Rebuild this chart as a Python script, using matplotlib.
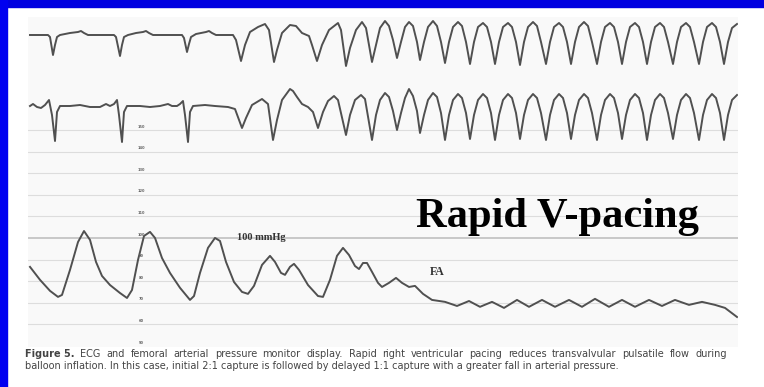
import matplotlib
matplotlib.use("Agg")
import matplotlib.pyplot as plt
from matplotlib.patches import Rectangle

W, H, DPI = 764, 387, 100

# ---------------- data ----------------
# ECG lead (top trace): time in s, amplitude in mV
ecg1_t = [0.01, 0.19, 0.21, 0.24, 0.26, 0.28, 0.31, 0.41, 0.49, 0.52, 0.55, 0.59,
          0.85, 0.87, 0.91, 0.93, 0.95, 0.99, 1.07, 1.14, 1.17, 1.20, 1.24,
          1.53, 1.55, 1.58, 1.60, 1.62, 1.67, 1.77, 1.80, 1.83, 1.87,
          2.04, 2.07, 2.12, 2.16, 2.21, 2.29, 2.36, 2.40, 2.45, 2.48, 2.53, 2.61, 2.67,
          2.73, 2.80, 2.83, 2.88, 2.93, 3.00, 3.09, 3.12, 3.17, 3.21, 3.27, 3.33, 3.37, 3.43,
          3.47, 3.51, 3.56, 3.60, 3.64, 3.68,
          3.72, 3.76, 3.80, 3.84, 3.88, 3.91,
          3.95, 3.99, 4.04, 4.08, 4.12, 4.16,
          4.20, 4.24, 4.29, 4.33, 4.37, 4.41,
          4.45, 4.49, 4.54, 4.58, 4.62, 4.66,
          4.70, 4.74, 4.79, 4.83, 4.87, 4.91,
          4.95, 4.99, 5.04, 5.08, 5.12, 5.17,
          5.21, 5.25, 5.30, 5.34, 5.38, 5.42,
          5.46, 5.50, 5.55, 5.59, 5.63, 5.68,
          5.72, 5.76, 5.81, 5.85, 5.89, 5.93,
          5.97, 6.01, 6.06, 6.10, 6.14, 6.18,
          6.22, 6.26, 6.31, 6.35, 6.39, 6.44,
          6.48, 6.52, 6.57, 6.61, 6.65, 6.70,
          6.74, 6.78, 6.83, 6.87, 6.91, 6.95,
          6.99, 7.03, 7.08]
ecg1_v = [0, 0, -0.1, -1.0, -0.5, -0.1, 0, 0.1, 0.15, 0.2, 0.1, 0,
          0, -0.1, -1.05, -0.5, -0.1, 0, 0.1, 0.15, 0.2, 0.1, 0,
          0, -0.15, -0.85, -0.45, -0.1, 0.05, 0.15, 0.2, 0.1, 0,
          0, -0.25, -1.3, -0.5, 0.15, 0.4, 0.55, 0.25, -1.35, -0.75, 0.1, 0.5, 0.45,
          0.1, -0.05, -0.5, -1.3, -0.5, 0.25, 0.6, 0.25, -1.55, -0.65, 0.25, 0.65, 0.35, -1.35,
          -0.5, 0.35, 0.7, 0.45, -0.25, -1.15,
          -0.35, 0.4, 0.65, 0.45, -0.35, -1.25,
          -0.35, 0.4, 0.7, 0.45, -0.35, -1.4,
          -0.35, 0.4, 0.65, 0.45, -0.35, -1.45,
          -0.35, 0.4, 0.6, 0.4, -0.35, -1.45,
          -0.35, 0.4, 0.6, 0.4, -0.35, -1.5,
          -0.35, 0.4, 0.65, 0.45, -0.35, -1.45,
          -0.35, 0.4, 0.6, 0.4, -0.35, -1.45,
          -0.35, 0.4, 0.65, 0.45, -0.35, -1.45,
          -0.35, 0.4, 0.6, 0.4, -0.35, -1.45,
          -0.35, 0.4, 0.6, 0.4, -0.35, -1.45,
          -0.35, 0.4, 0.6, 0.4, -0.35, -1.45,
          -0.35, 0.4, 0.6, 0.4, -0.35, -1.45,
          -0.35, 0.4, 0.6, 0.4, -0.35, -1.45,
          -0.35, 0.35, 0.55]

# ECG lead (second trace)
ecg2_t = [0.01, 0.04, 0.08, 0.12, 0.16, 0.20, 0.23, 0.26, 0.28, 0.31, 0.41, 0.51, 0.61,
          0.71, 0.77, 0.81, 0.85, 0.88, 0.90, 0.93, 0.95, 0.98, 1.11, 1.21, 1.31, 1.39,
          1.43, 1.48, 1.51, 1.54, 1.56, 1.59, 1.61, 1.64, 1.76, 1.86, 1.99, 2.06, 2.13,
          2.17, 2.23, 2.33, 2.39, 2.44, 2.48, 2.53, 2.61, 2.64, 2.68, 2.73, 2.79, 2.84,
          2.89, 2.94, 2.99, 3.05, 3.09, 3.17, 3.21, 3.26, 3.32, 3.36, 3.43,
          3.47, 3.51, 3.56, 3.60, 3.64, 3.68,
          3.72, 3.76, 3.80, 3.84, 3.88, 3.91,
          3.95, 3.99, 4.04, 4.08, 4.12, 4.16,
          4.20, 4.24, 4.29, 4.33, 4.37, 4.41,
          4.45, 4.49, 4.54, 4.58, 4.62, 4.66,
          4.70, 4.74, 4.79, 4.83, 4.87, 4.91,
          4.95, 4.99, 5.04, 5.08, 5.12, 5.17,
          5.21, 5.25, 5.30, 5.34, 5.38, 5.42,
          5.46, 5.50, 5.55, 5.59, 5.63, 5.68,
          5.72, 5.76, 5.81, 5.85, 5.89, 5.93,
          5.97, 6.01, 6.06, 6.10, 6.14, 6.18,
          6.22, 6.26, 6.31, 6.35, 6.39, 6.44,
          6.48, 6.52, 6.57, 6.61, 6.65, 6.70,
          6.74, 6.78, 6.83, 6.87, 6.91, 6.95,
          6.99, 7.03, 7.08]
ecg2_v = [0.05, 0.15, 0, -0.05, 0.1, 0.35, -0.4, -1.7, -0.25, 0.05, 0.05, 0.1, 0,
          0, 0.15, 0.05, 0.15, 0.35, -0.4, -1.75, -0.25, 0.05, 0.05, 0, 0.05, 0.15,
          0.05, 0.05, 0.15, 0.3, -0.4, -1.75, -0.25, 0.05, 0.1, 0.05, 0, -0.1, -1.05,
          -0.55, 0.1, 0.4, 0.15, -1.65, -0.65, 0.35, 0.9, 0.8, 0.5, 0.15, 0, -0.25,
          -1.05, -0.25, 0.3, 0.55, 0.35, -1.4, -0.4, 0.35, 0.6, 0.4, -1.65,
          -0.4, 0.35, 0.7, 0.5, -0.2, -1.15,
          -0.3, 0.45, 0.9, 0.55, -0.2, -1.3,
          -0.4, 0.35, 0.7, 0.5, -0.3, -1.65,
          -0.4, 0.35, 0.65, 0.45, -0.3, -1.6,
          -0.4, 0.35, 0.65, 0.45, -0.3, -1.65,
          -0.4, 0.35, 0.65, 0.45, -0.3, -1.6,
          -0.4, 0.35, 0.65, 0.45, -0.3, -1.65,
          -0.4, 0.35, 0.65, 0.45, -0.3, -1.6,
          -0.4, 0.35, 0.65, 0.45, -0.3, -1.65,
          -0.4, 0.35, 0.65, 0.45, -0.3, -1.6,
          -0.4, 0.35, 0.65, 0.45, -0.3, -1.65,
          -0.4, 0.35, 0.65, 0.45, -0.3, -1.6,
          -0.4, 0.35, 0.65, 0.45, -0.3, -1.65,
          -0.4, 0.35, 0.65, 0.45, -0.3, -1.65,
          -0.4, 0.35, 0.6]

# Femoral arterial pressure (mmHg)
fa_t = [0.01, 0.11, 0.21, 0.29, 0.33, 0.41, 0.49, 0.55, 0.61, 0.67, 0.73, 0.81, 0.91,
        0.98, 1.03, 1.09, 1.15, 1.21, 1.26, 1.33, 1.41, 1.51, 1.61, 1.65, 1.71, 1.79,
        1.86, 1.91, 1.97, 2.05, 2.13, 2.19, 2.25, 2.33, 2.41, 2.46, 2.52, 2.56, 2.61,
        2.65, 2.70, 2.79, 2.89, 2.94, 3.01, 3.08, 3.14, 3.20, 3.26, 3.30, 3.34, 3.38,
        3.43, 3.49, 3.53, 3.60, 3.67, 3.73, 3.80, 3.86, 3.94, 4.03, 4.16, 4.28, 4.40,
        4.51, 4.63, 4.75, 4.88, 5.00, 5.13, 5.26, 5.40, 5.53, 5.66, 5.80, 5.93, 6.06,
        6.20, 6.33, 6.46, 6.60, 6.73, 6.86, 6.96, 7.08]
fa_p = [86.6, 80.6, 75.5, 72.7, 73.6, 85.2, 98.1, 103.2, 99.1, 88.9, 82.4, 78.2, 74.5,
        72.2, 75.9, 89.8, 100.9, 102.8, 100.0, 90.7, 83.8, 76.9, 71.3, 73.1, 83.8, 95.4,
        100.0, 98.6, 88.9, 79.6, 75.0, 74.1, 77.8, 87.5, 91.7, 88.9, 83.8, 82.9, 86.6,
        88.0, 85.2, 78.2, 73.1, 72.7, 80.6, 91.7, 95.4, 92.1, 87.0, 85.6, 88.4, 88.4,
        84.3, 79.2, 77.3, 79.2, 81.5, 79.2, 77.3, 77.8, 74.1, 71.3, 70.4, 68.5, 70.8,
        68.1, 70.4, 67.6, 71.3, 68.1, 71.3, 68.1, 71.3, 68.1, 71.8, 68.1, 71.3, 68.1,
        71.3, 68.5, 71.3, 69.0, 70.4, 69.0, 67.6, 63.4]

scale_ticks = [150, 140, 130, 120, 110, 100, 90, 80, 70, 60, 50]
grid_levels = [150, 140, 130, 120, 110, 100, 90, 80, 70, 60]

title_text = "Rapid V-pacing"
caption_bold = "Figure 5."
caption_line1 = ("ECG and femoral arterial pressure monitor display. Rapid right "
                 "ventricular pacing reduces transvalvular pulsatile flow during")
caption_line2 = ("balloon inflation. In this case, initial 2:1 capture is followed by "
                 "delayed 1:1 capture with a greater fall in arterial pressure.")

# ---------------- drawing ----------------
fig = plt.figure(figsize=(W / DPI, H / DPI), dpi=DPI, facecolor="white")


def box(x0, y0, x1, y1):
    """pixel box (top-left origin) -> figure fraction rect"""
    return [x0 / W, 1 - y1 / H, (x1 - x0) / W, (y1 - y0) / H]


def fxy(x, y):
    return x / W, 1 - y / H


# blue slide border
fig.patches.append(Rectangle((0, 1 - 7 / H), 1, 7 / H, transform=fig.transFigure,
                             color="#0000e0", zorder=0))
fig.patches.append(Rectangle((0, 0), 7 / W, 1, transform=fig.transFigure,
                             color="#0000f0", zorder=0))

XL = (-0.01, 7.09)
trace_col = "#505050"

# pressure panel (background with grid)
axp = fig.add_axes(box(28, 17, 738, 347))
axp.set_facecolor("#f9f9f9")
axp.set_xlim(*XL)
axp.set_ylim(49.5, 202.3)
for lv in grid_levels:
    axp.axhline(lv, color="#c4c4c4" if lv == 100 else "#dddddd",
                lw=1.3 if lv == 100 else 0.8, zorder=1)
axp.plot(fa_t, fa_p, color=trace_col, lw=1.4, solid_joinstyle="round", zorder=3)
for v in scale_ticks:
    axp.annotate(str(v), (1.12, v), xytext=(0, 2.4), textcoords="offset points",
                 ha="center", va="center", fontsize=2.6, color="#666666",
                 fontweight="bold", annotation_clip=False)
axp.text(2.08, 100, "100 mmHg", fontsize=7.5, fontweight="bold",
         family="Liberation Serif", color="#333333", va="center", ha="left", zorder=4)
axp.text(4.01, 84.3, "FA", fontsize=8.5, fontweight="bold",
         family="Liberation Serif", color="#333333", va="center", ha="left", zorder=4)
axp.set_xticks([]); axp.set_yticks([])
for s in axp.spines.values():
    s.set_visible(False)

# ECG traces
for (y0, y1), tt, vv in [((5, 75), ecg1_t, ecg1_v), ((77, 147), ecg2_t, ecg2_v)]:
    ax = fig.add_axes(box(28, y0, 738, y1))
    ax.patch.set_alpha(0)
    ax.set_xlim(*XL)
    ax.set_ylim(-2, 1.5)
    ax.plot(tt, vv, color=trace_col, lw=1.4, solid_joinstyle="round")
    ax.axis("off")

# title
r = fig.canvas.get_renderer()
tx, ty = fxy(416, 227)
title = fig.text(tx, ty, title_text, fontsize=30, fontweight="bold",
                 family="Liberation Serif", color="black", ha="left", va="baseline")
wpx = title.get_window_extent(r).width
title.set_fontsize(30 * 283 / wpx)

# caption: line 2 near natural width, line 1 justified to full width
cfam = "DejaVu Sans"
ccol = "#444444"
cx0 = 25
_, cy1 = fxy(0, 354)
_, cy2 = fxy(0, 366)
probe = fig.text(0, 0, caption_line2, fontsize=6, family=cfam)
cfs = 6 * 595 / probe.get_window_extent(r).width
probe.remove()
fig.text(cx0 / W, cy2, caption_line2, fontsize=cfs, family=cfam, color=ccol,
         ha="left", va="center")

words = [(caption_bold, "bold")] + [(w, "normal") for w in caption_line1.split()]
arts = []
for w, wt in words:
    a = fig.text(0, cy1, w, fontsize=cfs, family=cfam, fontweight=wt, color=ccol,
                 ha="left", va="center")
    arts.append((a, a.get_window_extent(r).width))
gap = (702 - sum(wd for _, wd in arts)) / (len(arts) - 1)
xpos = cx0
for a, wd in arts:
    a.set_x(xpos / W)
    xpos += wd + gap

fig.savefig("out.png", dpi=DPI, facecolor="white")
